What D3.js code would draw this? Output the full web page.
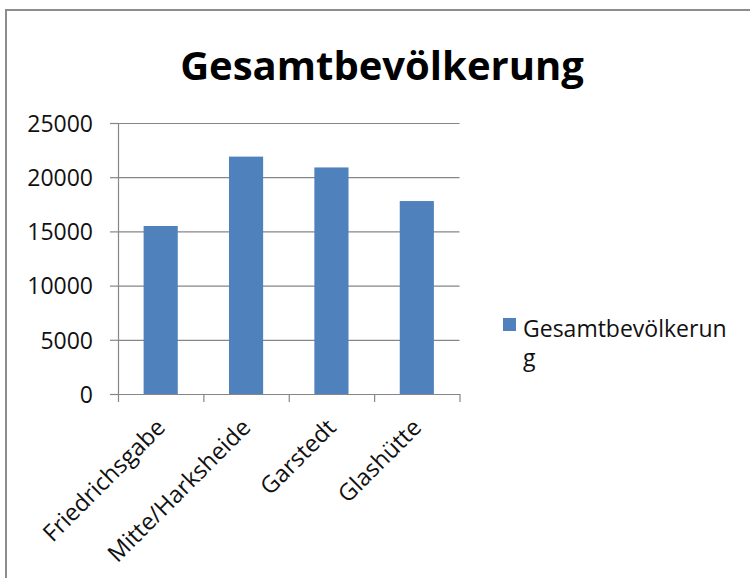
<!DOCTYPE html>
<html>
<head>
<meta charset="utf-8">
<script src="https://cdn.jsdelivr.net/npm/d3@7"></script>
<style>
  body { margin: 0; background: #fff; }
  svg { display: block; font-family: "Open Sans", sans-serif; }
</style>
</head>
<body>
<div id="chart"></div>
<script>
// data
var categories = ["Friedrichsgabe", "Mitte/Harksheide", "Garstedt", "Glashütte"];
var population = [15500, 21900, 20900, 17800];
var yTicks = [0, 5000, 10000, 15000, 20000, 25000];
var seriesName = "Gesamtbevölkerung";

var W = 750, H = 578;
// plot area
var plotLeft = 118, plotRight = 459.5, plotTop = 123, plotBottom = 394;

var svg = d3.select("#chart")
  .append("svg")
  .attr("width", W)
  .attr("height", H);

// chart frame (right and bottom edges sit outside the window)
svg.append("rect")
  .attr("x", 6).attr("y", 10)
  .attr("width", W + 20).attr("height", H + 20)
  .style("fill", "#fff")
  .style("stroke", "#8c8c8c")
  .style("stroke-width", 2);

// title
svg.append("text")
  .attr("x", 382)
  .attr("y", 80)
  .style("text-anchor", "middle")
  .style("font-size", "40px")
  .style("font-weight", "bold")
  .style("fill", "#000")
  .text(seriesName);

// scales
var x = d3.scaleBand()
  .domain(categories)
  .range([plotLeft, plotRight])
  .paddingInner(0.6)
  .paddingOuter(0.3);

var xEdge = d3.scaleLinear()
  .domain([0, categories.length])
  .range([plotLeft, plotRight]);

var y = d3.scaleLinear()
  .domain([0, 25000])
  .range([plotBottom, plotTop]);

// gridlines
svg.append("g")
  .attr("class", "grid")
  .attr("transform", "translate(" + plotLeft + ",0)")
  .call(d3.axisRight(y).tickValues(yTicks).tickSize(plotRight - plotLeft).tickFormat(""))
  .call(function(g) { g.select(".domain").remove(); })
  .selectAll("line")
  .style("stroke", "#868686")
  .style("stroke-width", 1.2);

// bars
svg.selectAll(".bar")
  .data(population)
  .enter()
  .append("rect")
  .attr("class", "bar")
  .attr("x", function(d, i) { return x(categories[i]); })
  .attr("width", x.bandwidth())
  .attr("y", function(d) { return y(d); })
  .attr("height", function(d) { return plotBottom - y(d); })
  .style("fill", "#4f81bd");

// y axis
var yAxis = svg.append("g")
  .attr("transform", "translate(" + plotLeft + ",0)")
  .call(d3.axisLeft(y).tickValues(yTicks).tickSize(8).tickPadding(17).tickSizeOuter(0).tickFormat(d3.format("d")));
yAxis.selectAll("line, path").style("stroke", "#868686").style("stroke-width", 1.2);
yAxis.selectAll("text")
  .style("font-size", "23px")
  .style("font-family", "'Open Sans', sans-serif")
  .style("fill", "#111")
  .attr("dy", "0.36em");

// x axis: category boundary ticks
var xAxis = svg.append("g")
  .attr("transform", "translate(0," + plotBottom + ")")
  .call(d3.axisBottom(xEdge).tickValues(d3.range(categories.length + 1)).tickSize(8).tickSizeOuter(0).tickFormat(""));
xAxis.selectAll("line, path").style("stroke", "#868686").style("stroke-width", 1.2);

// rotated category labels
svg.selectAll(".xlabel")
  .data(categories)
  .enter()
  .append("text")
  .attr("class", "xlabel")
  .attr("transform", function(d) {
    return "translate(" + (x(d) + x.bandwidth() / 2 + 6) + "," + 429 + ") rotate(-45)";
  })
  .style("text-anchor", "end")
  .style("font-size", "23.5px")
  .style("fill", "#111")
  .text(function(d) { return d; });

// legend
var legend = svg.append("g");
legend.append("rect")
  .attr("x", 503).attr("y", 318)
  .attr("width", 13).attr("height", 13)
  .style("fill", "#4f81bd");
var lt = legend.append("text")
  .style("font-size", "23px")
  .style("fill", "#111");
lt.append("tspan").attr("x", 523).attr("y", 337).text(seriesName.slice(0, -1));
lt.append("tspan").attr("x", 523).attr("y", 366).text(seriesName.slice(-1));
</script>
</body>
</html>
